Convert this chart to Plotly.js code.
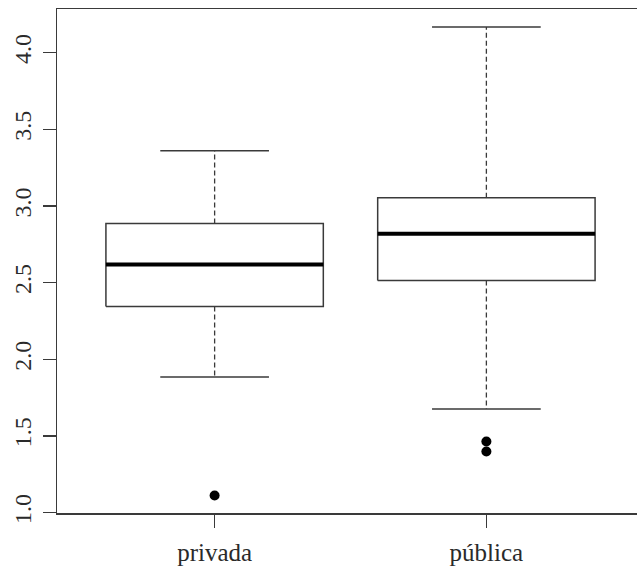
<!DOCTYPE html>
<html>
<head>
<meta charset="utf-8">
<script src="https://cdn.plot.ly/plotly-3.0.1.min.js"></script>
<style>
html, body { margin:0; padding:0; background:#fff; overflow:hidden; }
#chart { width:654px; height:572px; }
</style>
</head>
<body>
<div id="chart"></div>
<script>
// Data
const categories = ["privada", "pública"];
const lowerWhisker = [1.885, 1.676];
const q1 = [2.344, 2.513];
const median = [2.618, 2.818];
const q3 = [2.885, 3.053];
const upperWhisker = [3.361, 4.168];
const outliers = [[1.111], [1.463, 1.398]];
const yTicks = [1.0, 1.5, 2.0, 2.5, 3.0, 3.5, 4.0];
const yTickText = ["1.0", "1.5", "2.0", "2.5", "3.0", "3.5", "4.0"];

const halfBox = 0.4;     // R default boxwex 0.8
const halfCap = 0.2;     // staplewex 0.5
const lineCol = "#3a3a3a";
const serif = "Liberation Serif, Times New Roman, serif";

const traces = [];
categories.forEach((cat, i) => {
  const c = i + 1;
  traces.push({
    type: "scatter", mode: "lines", hoverinfo: "skip", showlegend: false,
    x: [c, c, null, c, c],
    y: [q3[i], upperWhisker[i], null, q1[i], lowerWhisker[i]],
    line: { color: lineCol, width: 1.3, dash: "5px,3px" }
  });
  traces.push({
    type: "scatter", mode: "lines", hoverinfo: "skip", showlegend: false,
    x: [c - halfCap, c + halfCap, null, c - halfCap, c + halfCap],
    y: [upperWhisker[i], upperWhisker[i], null, lowerWhisker[i], lowerWhisker[i]],
    line: { color: lineCol, width: 1.5 }
  });
  traces.push({
    type: "scatter", mode: "lines", hoverinfo: "skip", showlegend: false,
    x: [c - halfBox, c + halfBox, c + halfBox, c - halfBox, c - halfBox],
    y: [q1[i], q1[i], q3[i], q3[i], q1[i]],
    line: { color: lineCol, width: 1.5 }
  });
  traces.push({
    type: "scatter", mode: "lines", hoverinfo: "skip", showlegend: false,
    x: [c - halfBox, c + halfBox],
    y: [median[i], median[i]],
    line: { color: "#000", width: 4 }
  });
  traces.push({
    type: "scatter", mode: "markers", hoverinfo: "skip", showlegend: false,
    x: outliers[i].map(() => c),
    y: outliers[i],
    marker: { color: "#000", size: 10, symbol: "circle" }
  });
});

const layout = {
  width: 654, height: 572,
  margin: { l: 57, r: 10, t: 9, b: 59 },
  paper_bgcolor: "#fff", plot_bgcolor: "#fff",
  font: { family: serif, size: 25, color: "#2a2a2a" },
  xaxis: {
    range: [0.42, 2.58],
    tickmode: "array", tickvals: [1, 2], ticktext: categories,
    ticks: "outside", ticklen: 13, tickwidth: 1.3, tickcolor: lineCol,
    ticklabelstandoff: 3,
    showline: true, linecolor: lineCol, linewidth: 1.5, mirror: true,
    showgrid: false, zeroline: false,
    tickfont: { family: serif, size: 25, color: "#2a2a2a" }
  },
  yaxis: {
    range: [0.997, 4.285],
    tickmode: "array", tickvals: yTicks, ticktext: yTickText,
    tickangle: -90,
    ticks: "outside", ticklen: 13, tickwidth: 1.3, tickcolor: lineCol,
    ticklabelstandoff: 2,
    showline: true, linecolor: lineCol, linewidth: 1.5, mirror: true,
    showgrid: false, zeroline: false,
    tickfont: { family: serif, size: 24, color: "#2a2a2a" }
  }
};

Plotly.newPlot("chart", traces, layout, { staticPlot: true, displayModeBar: false });
</script>
</body>
</html>
